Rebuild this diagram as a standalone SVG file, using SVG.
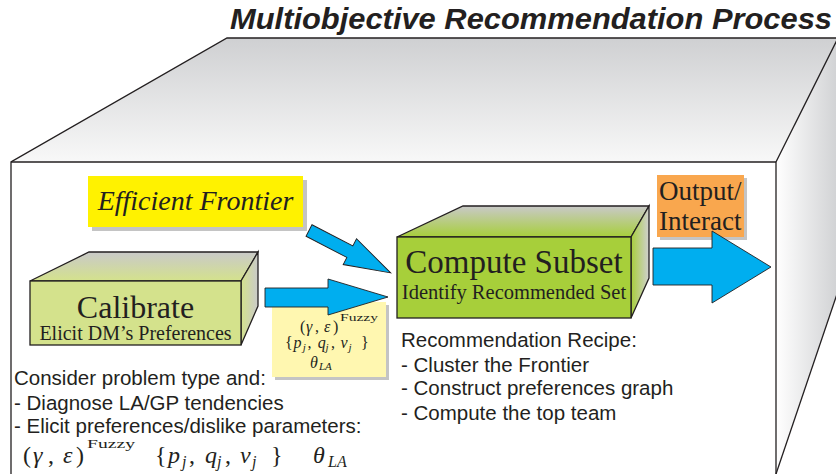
<svg xmlns="http://www.w3.org/2000/svg" width="836" height="474" viewBox="0 0 836 474">
<style>
.ln{stroke:#231f20;stroke-width:1.3;stroke-linejoin:miter}
.arrow{fill:#00aeef;stroke:#231f20;stroke-width:0.9}
.sans{font-family:"Liberation Sans",Arial,sans-serif;fill:#231f20}
.serif{font-family:"Liberation Serif","Times New Roman",serif;fill:#231f20}
.it{font-style:italic}
.shadow{fill:#c4c4c4}
</style>
<defs>
<linearGradient id="bigTop" x1="0" y1="0" x2="0" y2="1">
<stop offset="0" stop-color="#cfd0d2"/><stop offset="1" stop-color="#f8f8f8"/>
</linearGradient>
<linearGradient id="bigRight" x1="0" y1="0" x2="1" y2="0">
<stop offset="0" stop-color="#ffffff"/><stop offset="1" stop-color="#cfd0d2"/>
</linearGradient>
<linearGradient id="calTop" x1="0" y1="0" x2="0" y2="1">
<stop offset="0" stop-color="#c9c9c9"/><stop offset="1" stop-color="#d4e28c"/>
</linearGradient>
<linearGradient id="calRight" x1="0" y1="0" x2="1" y2="0">
<stop offset="0" stop-color="#d4e28c"/><stop offset="1" stop-color="#cacaca"/>
</linearGradient>
<linearGradient id="cmpTop" x1="0" y1="0" x2="0" y2="1">
<stop offset="0" stop-color="#c9c9c9"/><stop offset="1" stop-color="#a7cf3a"/>
</linearGradient>
<linearGradient id="cmpRight" x1="0" y1="0" x2="1" y2="0">
<stop offset="0" stop-color="#a7cf3a"/><stop offset="1" stop-color="#d0d0d0"/>
</linearGradient>
</defs>

<g id="title">
<text class="sans" x="230" y="29" font-size="30" font-weight="bold" font-style="italic" textLength="602" lengthAdjust="spacingAndGlyphs">Multiobjective Recommendation Process</text>
</g>

<g id="process-box">
<polygon points="11,162 227,38 838,38 776,162" fill="url(#bigTop)"/>
<polygon points="776,162 838,38 840,38 840,286 776,474" fill="url(#bigRight)"/>
<rect x="11" y="162" width="765" height="320" fill="#ffffff"/>
<polyline class="ln" fill="none" points="11,480 11,162 227,38 840,38"/>
<line class="ln" x1="11" y1="162" x2="776" y2="162"/>
<line class="ln" x1="776" y1="162" x2="776" y2="480"/>
<line class="ln" x1="776" y1="162" x2="838" y2="38"/>
<line class="ln" x1="776" y1="474" x2="838" y2="291"/>
</g>

<g id="efficient-frontier">
<rect class="shadow" x="92" y="180" width="215" height="51"/>
<rect x="88" y="176" width="215" height="51" fill="#fff200"/>
<text class="serif it" x="195.5" y="210" font-size="28" text-anchor="middle">Efficient Frontier</text>
</g>

<g id="calibrate">
<polygon points="30,281 89,252 258,252 241,281" fill="url(#calTop)" class="ln"/>
<polygon points="241,281 258,252 258,306 241,345" fill="url(#calRight)" class="ln"/>
<rect x="30" y="281" width="211" height="64" fill="#d4e28c" class="ln"/>
<text class="serif" x="135.5" y="318" font-size="32" text-anchor="middle">Calibrate</text>
<text class="serif" x="135.5" y="340" font-size="20" text-anchor="middle">Elicit DM’s Preferences</text>
</g>

<g id="parameters">
<rect class="shadow" x="275" y="305" width="114" height="75"/>
<rect x="272" y="302" width="114" height="75" fill="#fff7b0"/>
<text class="serif" font-size="16" y="332"><tspan x="300">(</tspan><tspan x="306" class="it">γ</tspan><tspan x="315">,</tspan><tspan x="324" class="it">ε</tspan><tspan x="333">)</tspan></text>
<text class="serif" font-size="10" x="340" y="321" textLength="38" lengthAdjust="spacingAndGlyphs">Fuzzy</text>
<text class="serif" font-size="16" y="348"><tspan x="285">{</tspan><tspan x="293.5" class="it">p</tspan><tspan x="302.7" y="351" class="it" font-size="11">j</tspan><tspan x="307.5" y="348">,</tspan><tspan x="317.7" class="it">q</tspan><tspan x="325.5" y="351" class="it" font-size="11">j</tspan><tspan x="331" y="348">,</tspan><tspan x="340.6" class="it">v</tspan><tspan x="348.4" y="351" class="it" font-size="11">j</tspan><tspan x="361" y="348">}</tspan></text>
<text class="serif" font-size="16" y="368"><tspan x="310" class="it">θ</tspan><tspan x="319" y="370" class="it" font-size="11">LA</tspan></text>
</g>

<g id="compute-subset">
<polygon points="397,237 463,206 649,206 631,237" fill="url(#cmpTop)" class="ln"/>
<polygon points="631,237 649,206 649,278 631,318" fill="url(#cmpRight)" class="ln"/>
<rect x="397" y="237" width="234" height="81" fill="#a7cf3a" class="ln"/>
<text class="serif" x="514" y="273" font-size="33" text-anchor="middle">Compute Subset</text>
<text class="serif" x="514" y="299" font-size="20.5" text-anchor="middle">Identify Recommended Set</text>
</g>

<g id="output-interact">
<rect class="shadow" x="660" y="178" width="87" height="62"/>
<rect x="657" y="175" width="87" height="62" fill="#f9a74e"/>
<text class="serif" x="659" y="200" font-size="27">Output/</text>
<text class="serif" x="659" y="230" font-size="27">Interact</text>
</g>

<g id="connectors">
<polygon class="arrow" transform="translate(309,230.5) rotate(27.4)" points="0,-6.5 46,-6.5 46,-14.5 92,0 46,14.5 46,6.5 0,6.5"/>
<polygon class="arrow" points="265,288 328,288 328,279 388,297 328,315 328,307 265,307"/>
<polygon class="arrow" points="653,248 712,248 712,231 771,267 712,303 712,285 653,285"/>
</g>

<g id="calibrate-notes">
<text class="sans" font-size="20.5" x="14" y="385">Consider problem type and:</text>
<text class="sans" font-size="20.5" x="14" y="410">- Diagnose LA/GP tendencies</text>
<text class="sans" font-size="20.5" x="14" y="433">- Elicit preferences/dislike parameters:</text>
<text class="serif" font-size="24" y="463"><tspan x="23">(</tspan><tspan x="33" class="it">γ</tspan><tspan x="48">,</tspan><tspan x="63" class="it">ε</tspan><tspan x="76">)</tspan></text>
<text class="serif" font-size="13" x="87" y="448" textLength="48" lengthAdjust="spacingAndGlyphs">Fuzzy</text>
<text class="serif" font-size="24" y="463"><tspan x="155">{</tspan><tspan x="168" class="it">p</tspan><tspan x="182" y="467" class="it" font-size="16">j</tspan><tspan x="189" y="463">,</tspan><tspan x="205" class="it">q</tspan><tspan x="217" y="467" class="it" font-size="16">j</tspan><tspan x="225" y="463">,</tspan><tspan x="240" class="it">v</tspan><tspan x="252" y="467" class="it" font-size="16">j</tspan><tspan x="271" y="463">}</tspan></text>
<text class="serif" font-size="24" y="463"><tspan x="313" class="it">θ</tspan><tspan x="328" y="467" class="it" font-size="16">LA</tspan></text>
</g>

<g id="recipe-notes">
<text class="sans" font-size="20.5" x="401" y="347">Recommendation Recipe:</text>
<text class="sans" font-size="20.5" x="401" y="372">- Cluster the Frontier</text>
<text class="sans" font-size="20.5" x="401" y="395">- Construct preferences graph</text>
<text class="sans" font-size="20.5" x="401" y="420">- Compute the top team</text>
</g>
</svg>
